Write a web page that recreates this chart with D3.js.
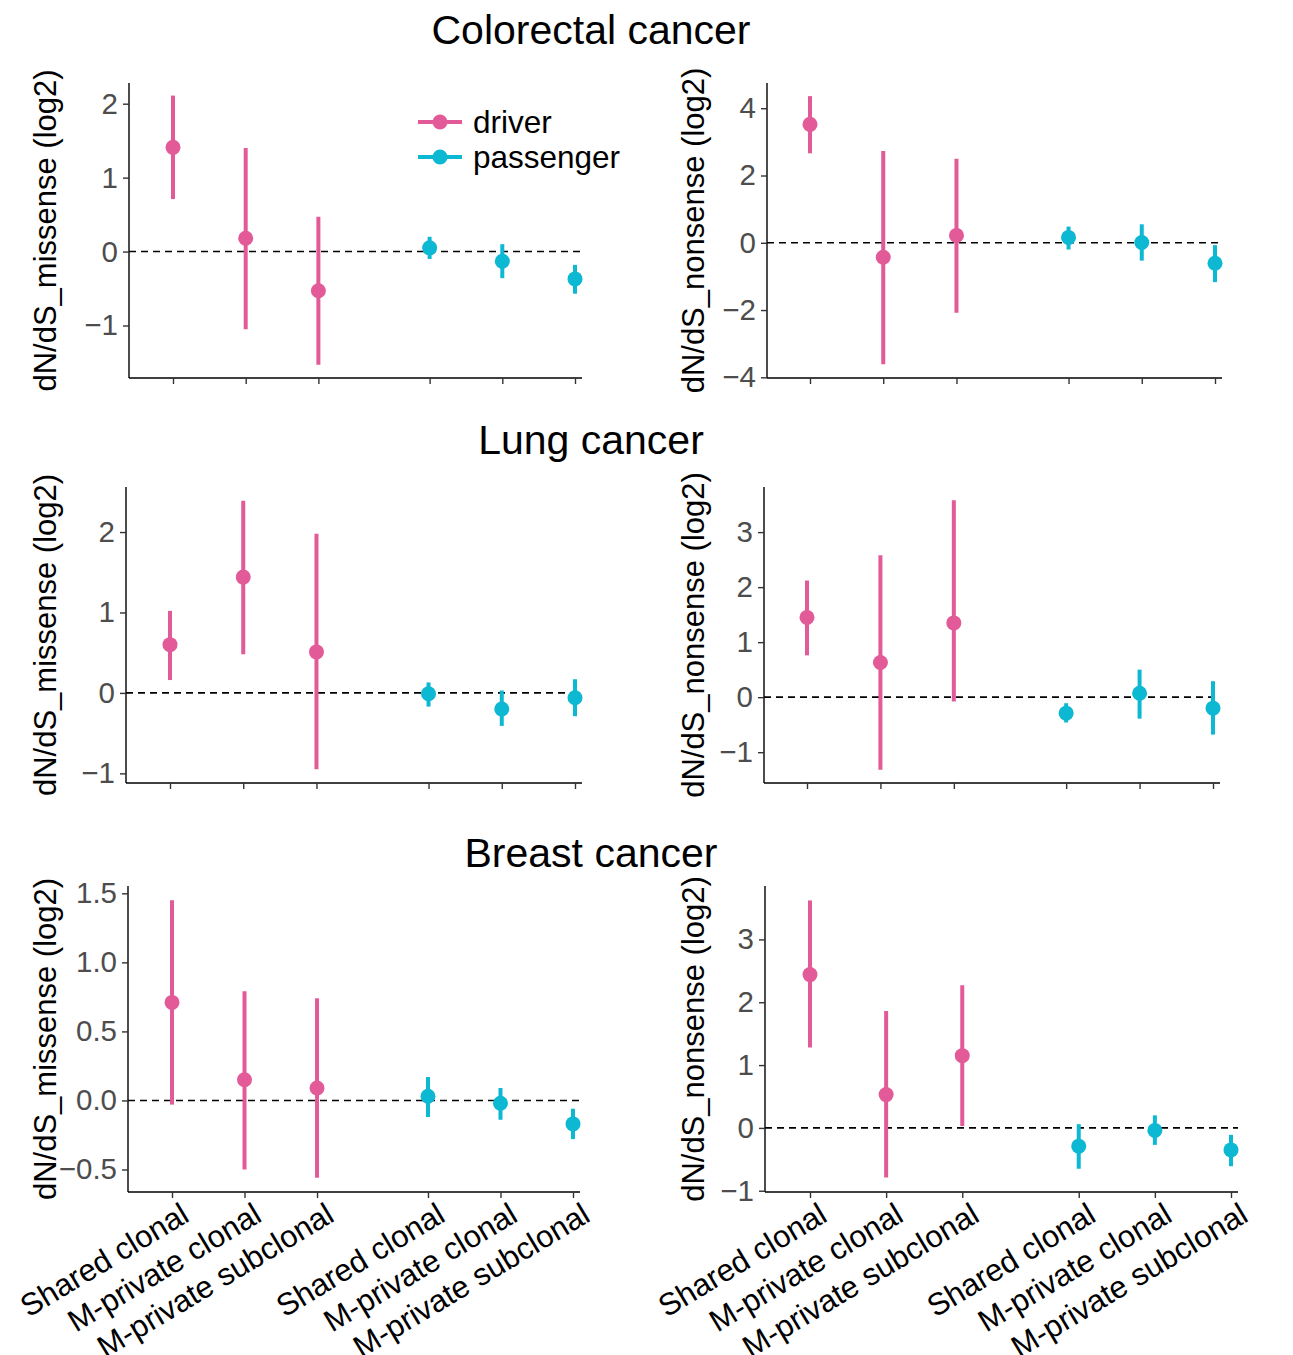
<!DOCTYPE html>
<html>
<head>
<meta charset="utf-8">
<script src="https://cdn.jsdelivr.net/npm/d3@7"></script>
<style>
  body { margin: 0; background: #fff; }
  text { font-family: "Liberation Sans", Arial, Helvetica, sans-serif; }
</style>
</head>
<body>
<script>
// categories along the x axis (driver block, then passenger block)
const categories = ["Shared clonal", "M-private clonal", "M-private subclonal"];
const groups = ["driver", "passenger"];
const groupColors = ["#E35A99", "#0DB8D3"];

// colorectal
const crcMissense   = [1.41, 0.18, -0.53, 0.05, -0.13, -0.37];
const crcMissenseLo = [0.71, -1.05, -1.53, -0.10, -0.36, -0.57];
const crcMissenseHi = [2.11, 1.40, 0.47, 0.20, 0.10, -0.18];
const crcNonsense   = [3.52, -0.43, 0.22, 0.16, 0.01, -0.61];
const crcNonsenseLo = [2.66, -3.61, -2.08, -0.20, -0.53, -1.17];
const crcNonsenseHi = [4.36, 2.73, 2.50, 0.48, 0.55, -0.07];

// lung
const lungMissense   = [0.60, 1.44, 0.51, -0.01, -0.20, -0.06];
const lungMissenseLo = [0.16, 0.48, -0.95, -0.17, -0.41, -0.29];
const lungMissenseHi = [1.02, 2.39, 1.98, 0.13, 0.03, 0.17];
const lungNonsense   = [1.45, 0.63, 1.35, -0.29, 0.07, -0.20];
const lungNonsenseLo = [0.76, -1.32, -0.08, -0.46, -0.39, -0.68];
const lungNonsenseHi = [2.12, 2.58, 3.58, -0.11, 0.50, 0.29];

// breast
const brcaMissense   = [0.71, 0.15, 0.09, 0.03, -0.02, -0.17];
const brcaMissenseLo = [-0.03, -0.50, -0.56, -0.12, -0.14, -0.28];
const brcaMissenseHi = [1.45, 0.79, 0.74, 0.17, 0.09, -0.06];
const brcaNonsense   = [2.44, 0.53, 1.15, -0.29, -0.04, -0.35];
const brcaNonsenseLo = [1.28, -0.79, 0.03, -0.65, -0.27, -0.61];
const brcaNonsenseHi = [3.62, 1.86, 2.27, 0.06, 0.20, -0.11];

// y tick labels
const ticksCrcMis = [-1, 0, 1, 2];
const ticksCrcNon = [-4, -2, 0, 2, 4];
const ticksLungMis = [-1, 0, 1, 2];
const ticksLungNon = [-1, 0, 1, 2, 3];
const ticksBrcaMis = [-0.5, 0, 0.5, 1, 1.5];
const ticksBrcaNon = [-1, 0, 1, 2, 3];

const titles = ["Colorectal cancer", "Lung cancer", "Breast cancer"];
const titleY = [44, 454, 867];

const W = 1293, H = 1355;
const svg = d3.select("body").append("svg").attr("width", W).attr("height", H);

// build rows: one point per category x group
function rows(est, lo, hi) {
  return est.map((v, i) => ({
    idx: i,
    group: i < 3 ? 0 : 1,
    label: categories[i % 3],
    est: v, lo: lo[i], hi: hi[i]
  }));
}

const panels = [
  { d: rows(crcMissense, crcMissenseLo, crcMissenseHi), ticks: ticksCrcMis, ylab: "dN/dS_missense (log2)",
    left: 129, first: 173, last: 575, top: 83, bottom: 378, ydom: [-1.71, 2.28], labx: 45, xlabels: false, fmt: d3.format("d") },
  { d: rows(crcNonsense, crcNonsenseLo, crcNonsenseHi), ticks: ticksCrcNon, ylab: "dN/dS_nonsense (log2)",
    left: 767, first: 810, last: 1215, top: 83, bottom: 378, ydom: [-4.02, 4.75], labx: 693, xlabels: false, fmt: d3.format("d") },
  { d: rows(lungMissense, lungMissenseLo, lungMissenseHi), ticks: ticksLungMis, ylab: "dN/dS_missense (log2)",
    left: 126, first: 170, last: 575, top: 487, bottom: 783, ydom: [-1.12, 2.56], labx: 45, xlabels: false, fmt: d3.format("d") },
  { d: rows(lungNonsense, lungNonsenseLo, lungNonsenseHi), ticks: ticksLungNon, ylab: "dN/dS_nonsense (log2)",
    left: 764, first: 807, last: 1213, top: 487, bottom: 783, ydom: [-1.56, 3.82], labx: 693, xlabels: false, fmt: d3.format("d") },
  { d: rows(brcaMissense, brcaMissenseLo, brcaMissenseHi), ticks: ticksBrcaMis, ylab: "dN/dS_missense (log2)",
    left: 128, first: 172, last: 573, top: 886, bottom: 1192, ydom: [-0.663, 1.553], labx: 45, xlabels: true, fmt: d3.format(".1f") },
  { d: rows(brcaNonsense, brcaNonsenseLo, brcaNonsenseHi), ticks: ticksBrcaNon, ylab: "dN/dS_nonsense (log2)",
    left: 765, first: 810, last: 1231, top: 886, bottom: 1192, ydom: [-1.02, 3.85], labx: 693, xlabels: true, fmt: d3.format("d") }
];

const gap = 0.53; // extra space between driver and passenger blocks
const pos = d => d.idx + (d.group === 1 ? gap : 0);

// titles
svg.selectAll(".title")
  .data(titles)
  .enter()
  .append("text")
  .attr("x", 591)
  .attr("y", (d, i) => titleY[i])
  .attr("text-anchor", "middle")
  .style("font-size", "41px")
  .style("fill", "#000")
  .text(d => d);

panels.forEach(p => {
  const g = svg.append("g");
  const x = d3.scaleLinear().domain([0, 5 + gap]).range([p.first, p.last]);
  const y = d3.scaleLinear().domain(p.ydom).range([p.bottom, p.top]);
  const right = p.last + 7;

  // y axis
  const ya = g.append("g")
    .attr("transform", `translate(${p.left},0)`)
    .call(d3.axisLeft(y).tickValues(p.ticks).tickFormat(p.fmt).tickSize(6).tickSizeOuter(0).tickPadding(5));
  ya.select(".domain").attr("d", `M0,${p.top}V${p.bottom}`).attr("stroke", "#000").attr("stroke-width", 1.4);
  ya.selectAll(".tick line").attr("stroke", "#333").attr("stroke-width", 1.4);
  ya.selectAll(".tick text")
    .style("font-size", "29.5px")
    .style("fill", "#4d4d4d")
    .text(v => p.fmt(v).replace("-", "\u2212"));

  // x axis
  const xa = g.append("g")
    .attr("transform", `translate(0,${p.bottom})`)
    .call(d3.axisBottom(x).tickValues(p.d.map(pos)).tickSize(6).tickSizeOuter(0)
      .tickFormat((v, i) => p.xlabels ? p.d[i].label : ""));
  xa.select(".domain").attr("d", `M${p.left},0H${right}`).attr("stroke", "#000").attr("stroke-width", 1.4);
  xa.selectAll(".tick line").attr("stroke", "#333").attr("stroke-width", 1.4);
  xa.selectAll(".tick text")
    .attr("x", 0).attr("y", 0)
    .attr("dy", "0.72em")
    .attr("text-anchor", "end")
    .attr("transform", "translate(7,9) rotate(-31)")
    .style("font-size", "31px")
    .style("fill", "#000");

  // y label
  g.append("text")
    .attr("transform", `translate(${p.labx},${(p.top + p.bottom) / 2}) rotate(-90)`)
    .attr("text-anchor", "middle")
    .attr("dy", "0.36em")
    .style("font-size", "31px")
    .style("fill", "#000")
    .text(p.ylab);

  // reference line at 0
  g.append("line")
    .attr("x1", p.left).attr("x2", right)
    .attr("y1", y(0)).attr("y2", y(0))
    .attr("stroke", "#000")
    .attr("stroke-width", 1.6)
    .attr("stroke-dasharray", "7,5");

  // error bars
  g.selectAll(".err")
    .data(p.d)
    .enter()
    .append("line")
    .attr("x1", d => x(pos(d))).attr("x2", d => x(pos(d)))
    .attr("y1", d => y(d.lo)).attr("y2", d => y(d.hi))
    .attr("stroke", d => groupColors[d.group])
    .attr("stroke-width", 4);

  // points
  g.selectAll(".pt")
    .data(p.d)
    .enter()
    .append("circle")
    .attr("cx", d => x(pos(d)))
    .attr("cy", d => y(d.est))
    .attr("r", 7.5)
    .attr("fill", d => groupColors[d.group]);
});

// legend
const legend = svg.append("g");
groups.forEach((name, i) => {
  const ly = 122 + i * 35;
  legend.append("line")
    .attr("x1", 418).attr("x2", 462)
    .attr("y1", ly).attr("y2", ly)
    .attr("stroke", groupColors[i]).attr("stroke-width", 4);
  legend.append("circle")
    .attr("cx", 440).attr("cy", ly).attr("r", 7.5)
    .attr("fill", groupColors[i]);
  legend.append("text")
    .attr("x", 473).attr("y", ly)
    .attr("dy", "0.35em")
    .style("font-size", "31.5px")
    .style("fill", "#000")
    .text(name);
});
</script>
</body>
</html>
